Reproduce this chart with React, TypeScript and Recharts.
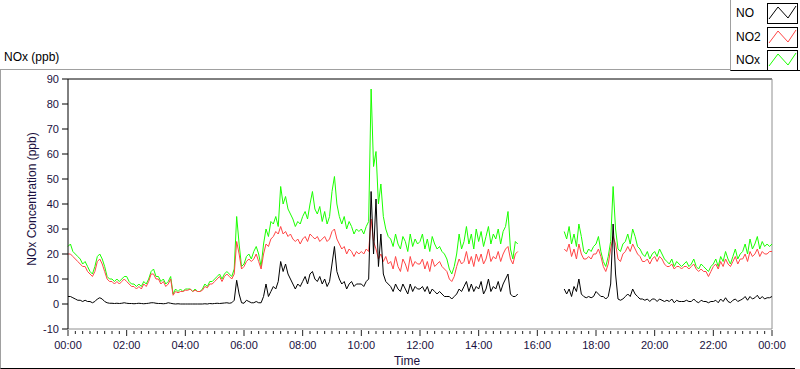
import React from "react"
import { LineChart, Line, XAxis, YAxis, ReferenceLine } from "recharts"

// 5-minute samples, one row per hour (00:00 ... 23:55), last value is 24:00
const _ = null
const noxValues = [
  23, 24, 21, 20, 19, 18, 16, 17, 15, 13, 12, 15,
  19, 20, 18, 15, 11, 10, 10, 9, 10, 9, 10, 11,
  11, 9, 8, 8, 7, 8, 7, 9, 8, 10, 13, 14,
  11, 11, 9, 10, 8, 9, 11, 4, 6, 5, 6, 5,
  6, 6, 6, 5, 6, 5, 5, 6, 8, 7, 9, 9,
  10, 11, 12, 10, 12, 13, 12, 11, 14, 35, 24, 15,
  16, 19, 20, 18, 21, 23, 20, 15, 24, 30, 27, 33,
  32, 35, 31, 47, 40, 43, 38, 36, 34, 31, 33, 32,
  35, 37, 34, 40, 45, 38, 36, 39, 33, 37, 32, 35,
  45, 51, 40, 35, 32, 35, 30, 33, 31, 28, 30, 29,
  30, 28, 31, 33, 86, 55, 61, 40, 48, 35, 30, 27,
  26, 23, 28, 24, 22, 27, 25, 21, 28, 23, 26, 24,
  25, 28, 22, 26, 21, 27, 24, 22, 23, 21, 20, 18,
  14, 12, 15, 20, 28, 22, 25, 31, 24, 28, 22, 30,
  25, 29, 23, 27, 31, 24, 28, 26, 30, 24, 29, 31,
  37, 22, 18, 25, 24, _, _, _, _, _, _, _,
  _, _, _, _, _, _, _, _, _, _, _, 29,
  26, 31, 24, 28, 23, 32, 27, 21, 20, 22, 21, 23,
  24, 27, 21, 17, 15, 19, 25, 47, 30, 22, 21, 24,
  25, 28, 24, 30, 27, 23, 22, 20, 19, 21, 18, 20,
  21, 19, 22, 20, 18, 17, 16, 18, 15, 17, 16, 15,
  16, 17, 15, 16, 18, 15, 14, 16, 15, 14, 13, 15,
  16, 18, 15, 19, 17, 21, 18, 16, 19, 22, 18, 20,
  21, 24, 20, 26, 22, 24, 27, 22, 25, 23, 24, 23,
  24,
]

const no2Values = [
  20, 20, 19, 18, 17, 16, 15, 15, 13, 12, 11, 13,
  17, 18, 16, 13, 10, 9, 9, 8, 9, 8, 9, 10,
  9, 8, 7, 7, 6, 7, 6, 8, 7, 9, 12, 12,
  10, 10, 8, 9, 7, 8, 10, 3.5, 5, 4.5, 5, 5,
  5.5, 5.5, 6, 5, 5.5, 5, 5, 5.5, 7, 6.5, 8, 8,
  9, 10, 11, 9, 11, 12, 11, 10, 12, 25, 20, 14,
  15, 17, 18, 17, 18, 20, 17, 14, 20, 24, 23, 26,
  27, 29, 28, 31, 28, 29, 27, 28, 26, 25, 26, 24,
  26, 27, 25, 28, 27, 26, 27, 25, 26, 27, 25, 26,
  29, 30, 26, 24, 22, 23, 20, 22, 21, 19, 21, 20,
  21, 20, 22, 21, 34, 25, 22, 18, 20, 17, 19, 16,
  17, 14, 19, 15, 13, 18, 16, 13, 19, 15, 17, 16,
  16, 18, 14, 17, 13, 18, 15, 16, 17, 15, 14, 13,
  10, 9, 11, 15, 18, 16, 17, 21, 16, 19, 15, 20,
  17, 20, 16, 18, 22, 17, 19, 18, 21, 17, 20, 22,
  23, 18, 16, 20, 21, _, _, _, _, _, _, _,
  _, _, _, _, _, _, _, _, _, _, _, 22,
  21, 24, 19, 22, 18, 24, 20, 18, 18, 19, 18, 20,
  20, 22, 19, 15, 13, 16, 22, 27, 24, 18, 17, 20,
  21, 23, 21, 24, 22, 20, 19, 17, 17, 18, 16, 18,
  19, 17, 19, 18, 16, 15, 15, 16, 14, 15, 15, 14,
  15, 15, 14, 15, 16, 14, 13, 14, 13, 13, 11, 13,
  15, 16, 14, 17, 15, 18, 16, 15, 17, 19, 16, 18,
  18, 20, 17, 21, 19, 20, 22, 19, 21, 20, 20, 21,
  21,
]

const noValues = [
  3, 3, 2.5, 2, 1.5, 1.5, 1, 1.5, 1, 1, 0.5, 1,
  2, 2.5, 2, 1, 0.5, 0.3, 0.3, 0.2, 0.3, 0.2, 0.3, 0.5,
  0.3, 0.2, 0.2, 0.1, 0.2, 0.3, 0.2, 0.1, 0.2, 0.3, 0.5, 0.5,
  0.3, 0.2, 0.2, 0.1, 0.2, 0.5, 0.3, 0.1, 0, 0.1, 0, 0,
  0, 0, 0, 0, 0, 0, 0, 0, 0.1, 0, 0.2, 0.1,
  0.2, 0.3, 0.2, 0.3, 0.4, 0.5, 0.3, 0.5, 1.5, 9.5, 4, 0.5,
  0.3, 1.5, 1, 0.5, 0.5, 1, 0.5, 0.5, 3, 8, 3, 5,
  7, 6, 9, 17, 13, 16, 12, 10, 8, 6, 8, 7,
  9, 11, 8, 12, 13, 10, 9, 11, 8, 10, 7, 9,
  16, 23, 13, 10, 8, 9, 6, 8, 9, 7, 8, 8,
  8, 7, 9, 10, 45, 20, 42, 15, 28, 12, 9, 8,
  7, 5, 8, 6, 5, 8, 6, 4, 8, 5, 7, 6,
  6, 7, 5, 7, 4, 6, 5, 4, 5, 4, 3, 3,
  3, 2, 3, 4, 6, 5, 7, 9, 5, 8, 5, 7,
  6, 9, 4, 6, 10, 5, 7, 6, 9, 5, 8, 10,
  12, 4, 3, 3, 4, _, _, _, _, _, _, _,
  _, _, _, _, _, _, _, _, _, _, _, 6,
  4, 6, 3, 7, 5, 10, 4, 3, 2.5, 3, 2.5, 3,
  5, 4, 3, 3, 2, 3, 8, 32, 12, 2, 1.5, 2,
  3, 4, 3, 6, 4, 3, 2, 2, 1.5, 2, 1, 2,
  2, 1, 2, 1.5, 1, 1.5, 1, 2, 0.5, 1.5, 1, 1,
  1, 1.5, 1, 1, 2, 1, 0.5, 1.5, 1, 1, 0.5, 1,
  1, 1.5, 0.5, 2, 1, 2.5, 1, 0.5, 1.5, 2, 1, 1.5,
  2, 3, 1.5, 3, 2, 2.5, 3.5, 2, 3, 2, 2.5, 2.5,
  3,
]

const timeLabels = [
  "00:00", "02:00", "04:00", "06:00", "08:00", "10:00", "12:00",
  "14:00", "16:00", "18:00", "20:00", "22:00", "00:00",
]
const yTicks = [-10, 0, 10, 20, 30, 40, 50, 60, 70, 80, 90]

const series = [
  { key: "NOx", color: "#1aff00" },
  { key: "NO2", color: "#ff4545" },
  { key: "NO", color: "#000000" },
]
const legendOrder = ["NO", "NO2", "NOx"]

const data = noValues.map((v, i) => ({
  t: i * 5,
  NO: v,
  NO2: no2Values[i],
  NOx: noxValues[i],
}))

// ticks every 15 minutes, labels every 2 hours
const xTicks = Array.from({ length: 97 }, (_, i) => i * 15)

const font = "'Liberation Sans', Arial, sans-serif"
const textColor = "#1a1040"

const TimeTick = ({ x, y, payload }: any) => {
  const v = payload.value
  const major = v % 120 === 0
  return (
    <g>
      <line x1={x} x2={x} y1={y + (major ? 1 : 2)} y2={y + (major ? 7 : 5)} stroke="#222" />
      {major && (
        <text x={x} y={y + 20} textAnchor="middle" fontSize={11} fontFamily={font} fill={textColor}>
          {timeLabels[v / 120]}
        </text>
      )}
    </g>
  )
}

const LegendSwatch = ({ color }: { color: string }) => (
  <svg width={31} height={21} style={{ display: "block" }}>
    <rect x={0.5} y={0.5} width={30} height={20} fill="#fff" stroke="#000" />
    <polyline points="2,16 11,4 21,15 29,3" fill="none" stroke={color} strokeWidth={1} />
  </svg>
)

export default function App() {
  return (
    <div style={{ position: "relative", width: 800, height: 369, background: "#fff", fontFamily: font, overflow: "hidden" }}>
      <style>{"body{margin:0}"}</style>

      {/* panel frame */}
      <div
        style={{
          position: "absolute",
          left: 0,
          top: 69,
          width: 794,
          height: 298,
          borderTop: "1px solid #a0a0a0",
          borderLeft: "1px solid #a0a0a0",
          borderBottom: "1px solid #000",
        }}
      />

      <div style={{ position: "absolute", left: 4, top: 50, fontSize: 12, color: "#000" }}>NOx (ppb)</div>

      {/* legend */}
      <div
        style={{
          position: "absolute",
          left: 730,
          top: 0,
          width: 70,
          height: 70,
          background: "#fff",
          borderLeft: "1px solid #a0a0a0",
          borderBottom: "1px solid #000",
        }}
      >
        {legendOrder.map((k, i) => {
          const s = series.find((d) => d.key === k)!
          return (
            <div key={k} style={{ position: "absolute", left: 0, top: 3 + i * 23.5, width: 70, height: 21 }}>
              <span style={{ position: "absolute", left: 5, top: 3, fontSize: 12, color: "#000" }}>{k}</span>
              <div style={{ position: "absolute", left: 36, top: 0 }}>
                <LegendSwatch color={s.color} />
              </div>
            </div>
          )
        })}
      </div>

      <div
        style={{
          position: "absolute",
          left: 32,
          top: 199,
          transform: "translate(-50%, -50%) rotate(-90deg)",
          whiteSpace: "nowrap",
          fontSize: 12,
          color: textColor,
        }}
      >
        NOx Concentration (ppb)
      </div>

      <div style={{ position: "absolute", left: 0, top: 0 }}>
        <LineChart width={800} height={369} data={data} margin={{ top: 79, right: 28, bottom: 0, left: 0 }}>
          <XAxis
            dataKey="t"
            type="number"
            domain={[0, 1440]}
            ticks={xTicks}
            interval={0}
            tickSize={0}
            tickMargin={0}
            tick={<TimeTick />}
            height={40}
            axisLine={{ stroke: "#909090" }}
            label={{ value: "Time", position: "insideBottom", offset: 4, dx: -13, fontSize: 12, fill: textColor, fontFamily: font }}
          />
          <YAxis
            type="number"
            domain={[-10, 90]}
            ticks={yTicks}
            interval={0}
            width={68}
            tickSize={6}
            tickMargin={3}
            axisLine={{ stroke: "#000" }}
            tickLine={{ stroke: "#000" }}
            tick={{ fontSize: 11, fill: textColor, fontFamily: font }}
          />
          <ReferenceLine y={90} stroke="#000" ifOverflow="extendDomain" />
          <ReferenceLine x={1440} stroke="#909090" />
          {series.map((s) => (
            <Line
              key={s.key}
              dataKey={s.key}
              stroke={s.color}
              strokeWidth={1}
              dot={false}
              activeDot={false}
              connectNulls={false}
              isAnimationActive={false}
              type="linear"
            />
          ))}
        </LineChart>
      </div>
    </div>
  )
}
